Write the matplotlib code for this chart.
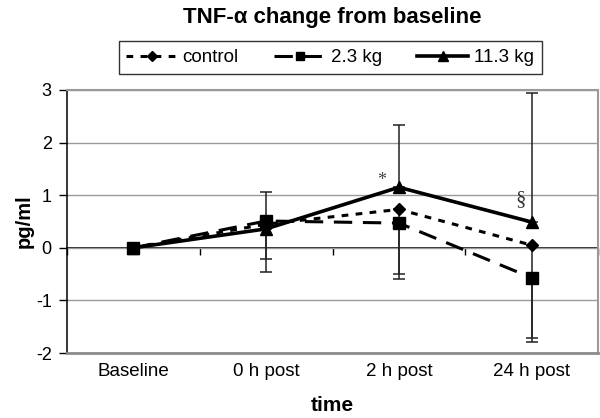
import matplotlib
matplotlib.use("Agg")
import matplotlib.pyplot as plt
import numpy as np

plt.rcParams['font.family'] = ['Liberation Sans', 'DejaVu Sans']

categories = ["Baseline", "0 h post", "2 h post", "24 h post"]

control = [0.0, 0.45, 0.73, 0.05]
kg_2_3 = [0.0, 0.51, 0.47, -0.57]
kg_11_3 = [0.0, 0.36, 1.15, 0.49]

# one-sided error bars (SD)
control_err_lo = [0.0, 0.67, 1.22, 1.76]
kg_2_3_err_lo = [0.0, 0.97, 1.07, 1.22]
kg_11_3_err_hi = [0.0, 0.71, 1.18, 2.45]

y_ticks = [-2, -1, 0, 1, 2, 3]
y_min, y_max = -2, 3

fig = plt.figure(figsize=(6.0, 4.18), dpi=100)
ax = fig.add_axes([67 / 600, 1 - 353 / 418, 531 / 600, 263 / 418])

x = np.arange(len(categories))
zeros = np.zeros(len(categories))

err_kw = dict(ecolor='#222222', elinewidth=1.1, capsize=4.5, capthick=1.1)

ax.errorbar(x, control, yerr=[control_err_lo, zeros], fmt='none', zorder=2, **err_kw)
ax.errorbar(x, kg_2_3, yerr=[kg_2_3_err_lo, zeros], fmt='none', zorder=2, **err_kw)
ax.errorbar(x, kg_11_3, yerr=[zeros, kg_11_3_err_hi], fmt='none', zorder=2, **err_kw)

ax.plot(x, control, color='black', lw=2.2, linestyle=(0, (2.2, 2.4)),
        marker='D', markersize=6.5, label='control', zorder=4)
ax.plot(x, kg_2_3, color='black', lw=2.2, linestyle=(0, (6, 3.5)),
        marker='s', markersize=8, label='2.3 kg', zorder=4)
ax.plot(x, kg_11_3, color='black', lw=2.6, linestyle='-',
        marker='^', markersize=8.5, label='11.3 kg', zorder=5)

# significance marks
ax.text(x[2] - 0.13, kg_11_3[2] + 0.13, '*', family='Liberation Serif',
        fontsize=13, color='#444444', ha='center', va='center')
ax.text(x[3] - 0.08, kg_11_3[3] + 0.43, '§', family='Liberation Serif',
        fontsize=15, color='#333333', ha='center', va='center')

ax.set_xlim(-0.5, len(categories) - 0.5)
ax.set_ylim(y_min, y_max)
ax.set_yticks(y_ticks)
ax.set_yticklabels([str(v) for v in y_ticks])
ax.set_xticks(x)
ax.set_xticklabels(categories)
ax.tick_params(axis='x', length=0, pad=7.5, labelsize=13.5)
ax.tick_params(axis='y', direction='out', length=5.5, width=1, pad=5.5, labelsize=13)

ax.yaxis.grid(True, color='#9a9a9a', lw=1.0)
ax.set_axisbelow(True)

ax.spines['left'].set_color('black')
ax.spines['left'].set_linewidth(1.1)
ax.spines['bottom'].set_color('#8c8c8c')
ax.spines['bottom'].set_linewidth(2.0)
ax.spines['top'].set_color('#9a9a9a')
ax.spines['top'].set_linewidth(1.5)
ax.spines['right'].set_color('#9a9a9a')
ax.spines['right'].set_linewidth(1.5)

# category axis line crossing at zero with boundary ticks
zero_frac = (0 - y_min) / (y_max - y_min)
sec = ax.secondary_xaxis(zero_frac)
sec.set_xticks(np.arange(len(categories) + 1) - 0.5)
sec.set_xticklabels([])
sec.tick_params(direction='out', length=5, width=1, color='black')
sec.spines['bottom'].set_color('black')
sec.spines['bottom'].set_linewidth(1.2)

ax.set_xlabel('time', fontsize=15, fontweight='bold')
ax.xaxis.set_label_coords(0.5, (353 - 396) / 263)
ax.set_ylabel('pg/ml', fontsize=14.5, fontweight='bold')
ax.yaxis.set_label_coords((34 - 67) / 531, 0.5)

fig.text(332 / 600, 1 - 17 / 418, 'TNF-α change from baseline', fontsize=16,
         fontweight='bold', ha='center', va='center')

leg = fig.legend(loc='center', bbox_to_anchor=(330 / 600, 1 - 57.7 / 418), ncol=3,
                 fontsize=13.5, frameon=True, fancybox=False, edgecolor='black',
                 handlelength=2.7, columnspacing=1.9, handletextpad=0.3,
                 borderpad=0.42, borderaxespad=0, markerscale=0.8)
leg.get_frame().set_linewidth(1.0)

fig.savefig('out.png', dpi=100)
